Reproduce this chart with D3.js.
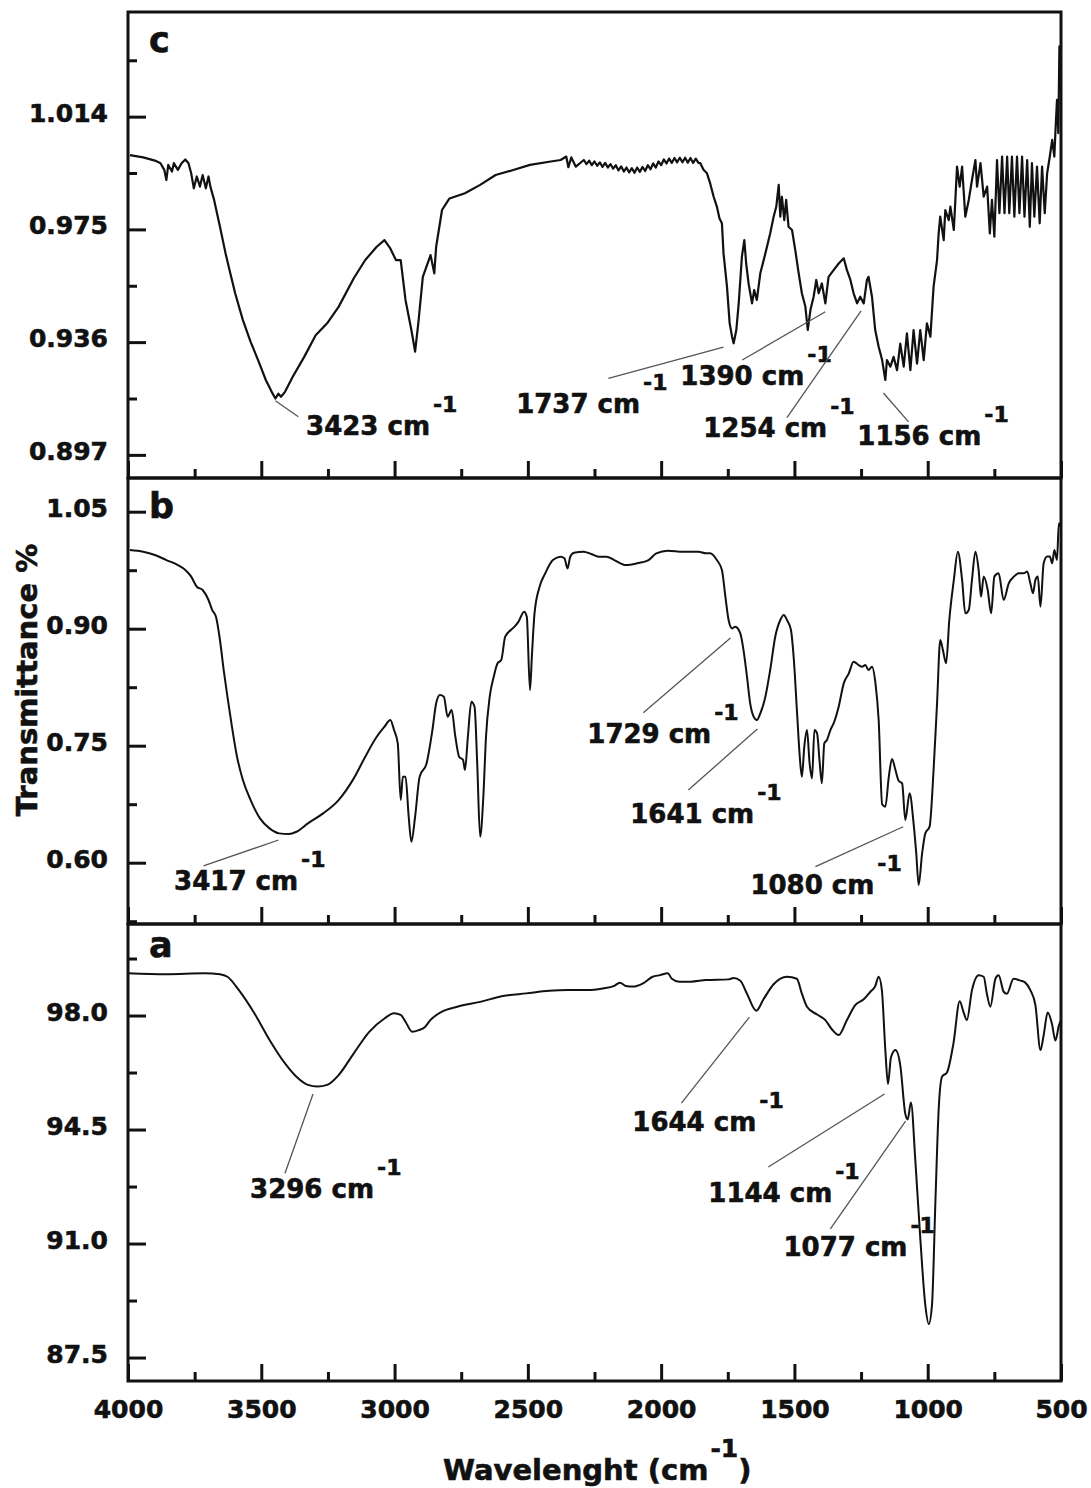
<!DOCTYPE html>
<html>
<head>
<meta charset="utf-8">
<script src="https://cdn.jsdelivr.net/npm/d3@7/dist/d3.min.js"></script>
<style>
  html, body { margin: 0; padding: 0; background: #fff; }
  svg { display: block; }
  text { font-family: "DejaVu Sans", sans-serif; font-weight: bold; fill: #111; stroke: #111; stroke-width: 0.6px; }
</style>
</head>
<body>
<svg id="chart" width="1091" height="1488"></svg>
<script>
// ---- wavenumber axis (shared by the three stacked spectra) ----
const wavenumberDomain = [4000, 500];
const wavenumberTicks = [4000, 3500, 3000, 2500, 2000, 1500, 1000, 500];
const wavenumberMinorTicks = [3750, 3250, 2750, 2250, 1750, 1250, 750];

// ---- spectrum c : [wavenumber cm-1, transmittance] ----
const spectrumC = [
  [3993,1.0007],[3943,0.9999],[3899,0.9988],[3878,0.9979],[3864,0.9956],[3856,0.9921],[3849,0.9973],
  [3835,0.9950],[3828,0.9979],[3813,0.9956],[3799,0.9979],[3785,0.9992],[3773,0.9979],[3763,0.9944],
  [3753,0.9892],[3742,0.9933],[3730,0.9898],[3720,0.9938],[3708,0.9892],[3698,0.9933],[3691,0.9898],
  [3677,0.9852],[3655,0.9759],[3634,0.9667],[3619,0.9609],[3598,0.9529],[3569,0.9436],[3540,0.9361],
  [3512,0.9298],[3483,0.9229],[3461,0.9188],[3447,0.9165],[3436,0.9182],[3426,0.9171],[3411,0.9188],
  [3382,0.9240],[3339,0.9309],[3296,0.9384],[3253,0.9425],[3210,0.9482],[3153,0.9581],[3110,0.9644],
  [3067,0.9690],[3038,0.9713],[3016,0.9684],[2995,0.9644],[2977,0.9644],[2959,0.9506],[2937,0.9402],
  [2923,0.9327],[2911,0.9425],[2894,0.9586],[2865,0.9661],[2851,0.9598],[2844,0.9690],[2822,0.9817],
  [2794,0.9857],[2736,0.9875],[2679,0.9904],[2621,0.9938],[2564,0.9953],[2492,0.9973],[2420,0.9984],
  [2377,0.9990],[2356,1.0002],[2348,0.9965],[2337,0.9999],[2320,0.9967],[2298,0.9984],
  [2290,0.9990],[2280,0.9976],[2270,0.9988],[2260,0.9972],[2250,0.9985],[2240,0.9970],[2230,0.9982],
  [2220,0.9966],[2210,0.9980],[2200,0.9964],[2190,0.9976],[2180,0.9960],[2170,0.9972],[2160,0.9954],
  [2150,0.9968],[2140,0.9950],[2130,0.9964],[2120,0.9947],[2110,0.9962],[2100,0.9946],[2090,0.9964],
  [2080,0.9949],[2070,0.9966],[2060,0.9952],[2050,0.9972],[2040,0.9958],[2030,0.9978],[2020,0.9964],
  [2010,0.9985],[2000,0.9972],[1990,0.9992],[1980,0.9978],[1970,0.9995],[1960,0.9980],[1950,0.9997],
  [1940,0.9982],[1930,0.9998],[1920,0.9982],[1910,0.9998],[1900,0.9981],[1890,0.9997],[1880,0.9980],
  [1870,0.9995],[1860,0.9980],[1853,0.9979],[1841,0.9956],[1828,0.9944],[1816,0.9909],[1803,0.9863],
  [1797,0.9846],[1791,0.9829],[1781,0.9788],[1772,0.9771],[1766,0.9667],[1753,0.9552],[1743,0.9425],
  [1734,0.9379],[1728,0.9356],[1718,0.9402],[1709,0.9494],[1697,0.9656],[1688,0.9713],[1681,0.9632],
  [1672,0.9563],[1659,0.9494],[1651,0.9540],[1641,0.9506],[1628,0.9598],[1609,0.9667],[1591,0.9736],
  [1578,0.9794],[1568,0.9829],[1559,0.9904],[1553,0.9794],[1547,0.9863],[1538,0.9782],[1531,0.9852],
  [1522,0.9759],[1509,0.9748],[1497,0.9679],[1484,0.9598],[1472,0.9529],[1459,0.9483],[1450,0.9402],
  [1440,0.9471],[1428,0.9517],[1418,0.9575],[1409,0.9529],[1397,0.9563],[1384,0.9494],[1372,0.9586],
  [1353,0.9609],[1334,0.9632],[1315,0.9650],[1303,0.9609],[1290,0.9575],[1278,0.9529],[1265,0.9494],
  [1253,0.9517],[1240,0.9494],[1228,0.9575],[1222,0.9586],[1209,0.9517],[1197,0.9402],[1184,0.9344],
  [1171,0.9298],[1159,0.9229],[1153,0.9298],[1140,0.9275],[1128,0.9309],[1115,0.9263],[1103,0.9355],
  [1090,0.9275],[1078,0.9390],[1065,0.9263],[1053,0.9402],[1040,0.9286],[1028,0.9402],[1015,0.9298],
  [1003,0.9425],[990,0.9379],[978,0.9552],[965,0.9644],[959,0.9736],[953,0.9794],[940,0.9713],
  [934,0.9817],[921,0.9782],[915,0.9829],[902,0.9748],[890,0.9967],[880,0.9898],[871,0.9967],
  [859,0.9794],[846,0.9852],[834,0.9921],[821,0.9990],[815,0.9898],[802,0.9979],[790,0.9863],
  [777,0.9898],[767,0.9736],[759,0.9852],[750,0.9725],[740,0.9990],[731,0.9806],[721,1.0002],
  [712,0.9806],[702,1.0002],[694,0.9806],[684,1.0002],[675,0.9794],[665,1.0002],[656,0.9806],
  [646,1.0002],[637,0.9794],[627,0.9990],[617,0.9759],[609,0.9979],[600,0.9794],[590,0.9967],
  [580,0.9771],[571,0.9967],[561,0.9806],[552,0.9944],[542,1.0002],[533,1.0060],[525,1.0002],
  [520,1.0106],[515,1.0198],[510,1.0083],[506,1.0383],[502,1.0256]
];

// ---- spectrum b ----
const spectrumB = [
  [3993,1.0009],[3943,0.9987],[3899,0.9945],[3856,0.9880],[3813,0.9816],[3785,0.9752],[3763,0.9667],
  [3742,0.9538],[3720,0.9496],[3698,0.9368],[3684,0.9239],[3670,0.9154],[3655,0.8855],[3641,0.8470],
  [3627,0.8128],[3612,0.7786],[3591,0.7359],[3569,0.7060],[3540,0.6803],[3505,0.6568],[3469,0.6440],
  [3433,0.6376],[3397,0.6367],[3368,0.6397],[3325,0.6504],[3268,0.6632],[3210,0.6803],[3153,0.7081],
  [3110,0.7359],[3067,0.7615],[3038,0.7743],[3016,0.7829],[3002,0.7701],[2988,0.7530],[2977,0.6803],
  [2969,0.7102],[2959,0.7102],[2947,0.6589],[2937,0.6269],[2923,0.6589],[2906,0.7102],[2880,0.7273],
  [2858,0.7701],[2844,0.8043],[2830,0.8149],[2815,0.8128],[2801,0.7872],[2786,0.7957],[2772,0.7615],
  [2758,0.7359],[2743,0.7316],[2736,0.7188],[2725,0.7615],[2712,0.8064],[2700,0.8000],[2690,0.7273],
  [2679,0.6333],[2667,0.6846],[2657,0.7615],[2643,0.8128],[2628,0.8384],[2614,0.8555],[2600,0.8598],
  [2585,0.8897],[2564,0.8983],[2550,0.9026],[2535,0.9090],[2514,0.9218],[2504,0.9154],[2492,0.8213],
  [2485,0.8641],[2475,0.9197],[2456,0.9538],[2435,0.9709],[2406,0.9880],[2377,0.9923],[2363,0.9902],
  [2351,0.9773],[2341,0.9923],[2327,0.9974],[2291,0.9987],[2262,0.9957],[2234,0.9923],[2205,0.9923],
  [2176,0.9880],[2133,0.9816],[2090,0.9838],[2047,0.9880],[2018,0.9966],[1975,1.0000],[1918,0.9987],
  [1860,0.9987],[1832,0.9966],[1816,0.9966],[1791,0.9880],[1772,0.9752],[1759,0.9410],[1747,0.9111],
  [1734,0.9004],[1722,0.9026],[1703,0.8940],[1691,0.8726],[1678,0.8384],[1666,0.8043],[1653,0.7872],
  [1641,0.7829],[1628,0.7914],[1609,0.8128],[1591,0.8470],[1572,0.8897],[1553,0.9111],[1540,0.9175],
  [1528,0.9111],[1513,0.8983],[1503,0.8641],[1490,0.7914],[1480,0.7359],[1472,0.7102],[1463,0.7487],
  [1453,0.7701],[1443,0.7273],[1434,0.7081],[1425,0.7701],[1415,0.7658],[1405,0.7273],[1397,0.7017],
  [1388,0.7530],[1378,0.7573],[1365,0.7701],[1353,0.7786],[1334,0.8000],[1315,0.8299],[1296,0.8427],
  [1278,0.8577],[1259,0.8534],[1246,0.8513],[1234,0.8534],[1222,0.8470],[1209,0.8513],[1196,0.8299],
  [1184,0.7829],[1171,0.6750],[1159,0.6718],[1146,0.7100],[1134,0.7330],[1121,0.7188],[1109,0.7050],
  [1096,0.7017],[1084,0.6547],[1068,0.6889],[1053,0.6505],[1043,0.6120],[1034,0.5714],[1021,0.6120],
  [1009,0.6376],[993,0.6462],[978,0.7188],[965,0.8043],[953,0.8855],[943,0.8727],[931,0.8556],
  [919,0.9112],[902,0.9625],[887,0.9988],[871,0.9625],[859,0.9197],[846,0.9240],[834,0.9625],
  [821,0.9988],[809,0.9753],[800,0.9411],[790,0.9668],[775,0.9496],[762,0.9197],[750,0.9668],
  [734,0.9710],[715,0.9368],[696,0.9582],[677,0.9668],[659,0.9710],[640,0.9710],[627,0.9732],
  [615,0.9582],[605,0.9454],[596,0.9625],[587,0.9668],[577,0.9283],[565,0.9838],[552,0.9924],
  [542,0.9924],[533,0.9838],[525,1.0010],[515,0.9881],[508,1.0351],[502,1.0308]
];

// ---- spectrum a ----
const spectrumA = [
  [4000,99.30],[3856,99.27],[3713,99.30],[3655,99.27],[3627,99.19],[3584,98.78],[3526,98.07],
  [3469,97.25],[3411,96.53],[3368,96.12],[3325,95.87],[3289,95.82],[3253,95.87],[3210,96.17],
  [3153,96.84],[3095,97.50],[3038,97.91],[3002,98.07],[2977,98.02],[2959,97.81],[2934,97.50],
  [2909,97.55],[2887,97.64],[2866,97.86],[2822,98.12],[2765,98.27],[2679,98.42],[2593,98.60],
  [2506,98.68],[2420,98.76],[2348,98.78],[2277,98.78],[2219,98.83],[2176,98.91],[2155,99.01],
  [2133,98.91],[2104,98.89],[2068,98.99],[2032,99.19],[2004,99.24],[1975,99.30],[1961,99.14],
  [1932,99.04],[1889,99.04],[1832,99.09],[1748,99.11],[1728,99.15],[1703,99.07],[1678,98.67],
  [1643,98.15],[1616,98.50],[1578,98.96],[1528,99.19],[1491,99.13],[1472,98.67],[1453,98.27],
  [1415,98.03],[1384,97.86],[1359,97.57],[1334,97.40],[1303,97.86],[1272,98.32],[1240,98.50],
  [1215,98.73],[1197,98.90],[1184,99.19],[1172,98.78],[1159,96.94],[1149,95.90],[1138,96.71],
  [1121,96.94],[1103,96.48],[1084,94.98],[1075,94.81],[1063,95.33],[1046,93.49],[1028,91.18],
  [1009,89.11],[996,88.53],[984,89.11],[971,92.33],[959,95.10],[946,96.13],[928,96.25],
  [903,97.17],[880,98.44],[865,98.09],[853,97.86],[834,98.78],[809,99.24],[790,99.19],
  [778,98.67],[765,98.27],[746,99.13],[734,99.24],[715,98.73],[703,98.67],[678,99.13],
  [652,99.07],[634,99.01],[615,98.78],[596,98.32],[577,96.94],[565,97.40],[550,98.09],
  [534,97.75],[521,97.23],[508,97.69],[500,97.86]
];

// ---- transmittance axes ----
const domainC = [0.8890, 1.0502];
const ticksC = [0.897, 0.936, 0.975, 1.014];
const minorC = [0.9165, 0.9555, 0.9945, 1.0335];
const domainB = [0.5214, 1.0932];
const ticksB = [0.60, 0.75, 0.90, 1.05];
const minorB = [0.525, 0.675, 0.825, 0.975];
const domainA = [86.78, 100.81];
const ticksA = [87.5, 91.0, 94.5, 98.0];
const minorA = [89.25, 92.75, 96.25, 99.75];

// ---- band labels: tip = point on the band, tail = start of the leader, text = label origin ----
const bandsC = [
  { label: "3423", tip: [3447, 0.9157], tail: [3361, 0.9102], text: [3332, 0.9039] },
  { label: "1737", tip: [1766, 0.9343], tail: [2198, 0.9235], text: [2544, 0.9115] },
  { label: "1390", tip: [1384, 0.9465], tail: [1696, 0.9298], text: [1928, 0.9212] },
  { label: "1254", tip: [1250, 0.9468], tail: [1528, 0.9099], text: [1842, 0.9032] },
  { label: "1156", tip: [1166, 0.9184], tail: [1072, 0.9084], text: [1264, 0.9004] }
];
const bandsB = [
  { label: "3417", tip: [3435, 0.6291], tail: [3717, 0.5958], text: [3827, 0.5650] },
  { label: "1729", tip: [1740, 0.8881], tail: [2067, 0.7923], text: [2277, 0.7534] },
  { label: "1641", tip: [1639, 0.7714], tail: [1898, 0.6932], text: [2116, 0.6509] },
  { label: "1080", tip: [1092, 0.6461], tail: [1421, 0.5949], text: [1665, 0.5599] }
];
const bandsA = [
  { label: "3296", tip: [3306, 95.59], tail: [3411, 93.16], text: [3542, 92.40] },
  { label: "1644", tip: [1669, 97.95], tail: [1924, 95.31], text: [2108, 94.45] },
  { label: "1144", tip: [1162, 95.59], tail: [1598, 93.35], text: [1823, 92.27] },
  { label: "1077", tip: [1083, 94.76], tail: [1365, 91.45], text: [1541, 90.62] }
];

const xTitle = "Wavelenght (cm";
const yTitle = "Transmittance %";

// ---- layout ----
const svg = d3.select("#chart");
svg.append("rect").attr("width", 1091).attr("height", 1488).attr("fill", "#fff");

const left = 128, right = 1061;
const x = d3.scaleLinear().domain(wavenumberDomain).range([left, right]);

const panels = [
  { name: "c", top: 12,  bottom: 478,  domain: domainC, ticks: ticksC, minor: minorC, fmt: d3.format(".3f"), data: spectrumC, bands: bandsC, curve: d3.curveLinear, width: 2.2, letterDy: 40 },
  { name: "b", top: 478, bottom: 924,  domain: domainB, ticks: ticksB, minor: minorB, fmt: d3.format(".2f"), data: spectrumB, bands: bandsB, curve: d3.curveMonotoneX, width: 2, letterDy: 40 },
  { name: "a", top: 924, bottom: 1381, domain: domainA, ticks: ticksA, minor: minorA, fmt: d3.format(".1f"), data: spectrumA, bands: bandsA, curve: d3.curveMonotoneX, width: 2, letterDy: 33 }
];

const ink = "#111";

panels.forEach((p, i) => {
  const y = d3.scaleLinear().domain(p.domain).range([p.bottom, p.top]);
  const g = svg.append("g").attr("class", "panel-" + p.name);

  // spectrum trace
  g.append("path")
    .datum(p.data)
    .attr("fill", "none")
    .attr("stroke", ink)
    .attr("stroke-width", p.width)
    .attr("stroke-linejoin", "round")
    .attr("d", d3.line().x(d => x(d[0])).y(d => y(d[1])).curve(p.curve));

  // major y ticks with labels (ticks point inward)
  g.append("g")
    .attr("transform", `translate(${left},0)`)
    .call(d3.axisLeft(y).tickValues(p.ticks).tickFormat(p.fmt).tickSize(-18).tickPadding(20))
    .call(a => a.select(".domain").remove())
    .call(a => a.selectAll("line").attr("stroke", ink).attr("stroke-width", 3))
    .call(a => a.selectAll("text")
      .attr("dy", "0.18em")
      .style("font-family", "'DejaVu Sans', sans-serif")
      .style("font-weight", "bold")
      .style("font-size", "25px")
      .attr("fill", ink));

  // minor y ticks
  g.append("g")
    .attr("transform", `translate(${left},0)`)
    .call(d3.axisLeft(y).tickValues(p.minor).tickFormat("").tickSize(-9))
    .call(a => a.select(".domain").remove())
    .call(a => a.selectAll("line").attr("stroke", ink).attr("stroke-width", 3));

  // x ticks along the bottom edge of every panel
  const isBottom = i === panels.length - 1;
  g.append("g")
    .attr("transform", `translate(0,${p.bottom})`)
    .call(d3.axisBottom(x).tickValues(wavenumberTicks).tickSize(-17).tickPadding(19)
      .tickFormat(isBottom ? d3.format("d") : ""))
    .call(a => a.select(".domain").remove())
    .call(a => a.selectAll("line").attr("stroke", ink).attr("stroke-width", 3))
    .call(a => a.selectAll("text")
      .style("font-family", "'DejaVu Sans', sans-serif")
      .style("font-weight", "bold")
      .style("font-size", "25px")
      .attr("fill", ink));
  g.append("g")
    .attr("transform", `translate(0,${p.bottom})`)
    .call(d3.axisBottom(x).tickValues(wavenumberMinorTicks).tickSize(-9).tickFormat(""))
    .call(a => a.select(".domain").remove())
    .call(a => a.selectAll("line").attr("stroke", ink).attr("stroke-width", 3));

  // panel frame
  g.append("rect")
    .attr("x", left).attr("y", p.top)
    .attr("width", right - left).attr("height", p.bottom - p.top)
    .attr("fill", "none").attr("stroke", ink).attr("stroke-width", 3);

  // panel letter
  g.append("text")
    .attr("x", left + 21).attr("y", p.top + p.letterDy)
    .style("font-size", "35px")
    .text(p.name);

  // band annotations
  p.bands.forEach(b => {
    g.append("line")
      .attr("x1", x(b.tail[0])).attr("y1", y(b.tail[1]))
      .attr("x2", x(b.tip[0])).attr("y2", y(b.tip[1]))
      .attr("stroke", "#555").attr("stroke-width", 1.3);
    const t = g.append("text")
      .attr("x", x(b.text[0])).attr("y", y(b.text[1]))
      .style("font-size", "26px");
    t.append("tspan").text(b.label + " cm");
    t.append("tspan").attr("dx", 3).attr("dy", -23).style("font-size", "22px").text("-1");
  });
});

// axis titles
const xt = svg.append("text")
  .attr("x", 443).attr("y", 1480)
  .style("font-size", "29px");
xt.append("tspan").text(xTitle);
xt.append("tspan").attr("dx", 2).attr("dy", -23).style("font-size", "25px").text("-1");
xt.append("tspan").attr("dy", 23).text(")");

svg.append("text")
  .attr("transform", "translate(37,680) rotate(-90)")
  .attr("text-anchor", "middle")
  .style("font-size", "29px")
  .text(yTitle);
</script>
</body>
</html>
